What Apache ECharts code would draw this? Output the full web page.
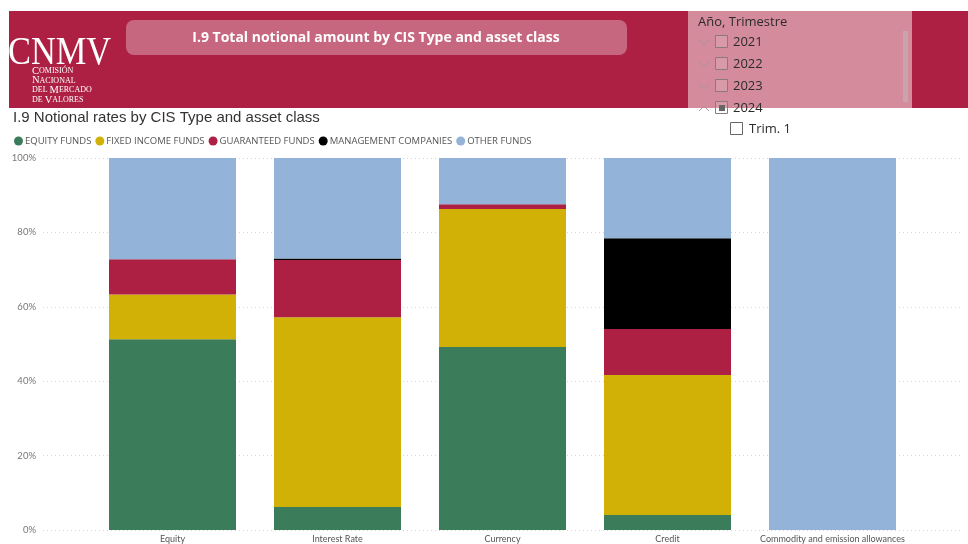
<!DOCTYPE html>
<html>
<head>
<meta charset="utf-8">
<script src="https://cdn.jsdelivr.net/npm/echarts@6/dist/echarts.min.js"></script>
<style>
  html, body { margin: 0; padding: 0; background: #fff; }
  #chart { width: 968px; height: 544px; }
</style>
</head>
<body>
<div id="chart"></div>
<script>
// Asset classes on the x axis
const categories = ['Equity', 'Interest Rate', 'Currency', 'Credit', 'Commodity and emission allowances'];

// Share of notional amount (%) per CIS type
const equityFunds         = [51.3, 6.2, 49.2, 4.0, 0];
const fixedIncomeFunds    = [12.0, 51.0, 37.1, 37.7, 0];
const guaranteedFunds     = [9.5, 15.4, 1.3, 12.3, 0];
const managementCompanies = [0, 0.4, 0, 24.4, 0];
const otherFunds          = [27.2, 27.0, 12.4, 21.6, 100];

const seriesNames = ['EQUITY FUNDS', 'FIXED INCOME FUNDS', 'GUARANTEED FUNDS', 'MANAGEMENT COMPANIES', 'OTHER FUNDS'];
const seriesColors = ['#3b7c5a', '#d2b106', '#ad2043', '#000000', '#94b3d9'];
const seriesData = [equityFunds, fixedIncomeFunds, guaranteedFunds, managementCompanies, otherFunds];

// Slicer entries
const slicerYears = ['2021', '2022', '2023', '2024'];
const slicerQuarter = 'Trim. 1';

// Logo wordmark lines
const logoLines = ['Comisión', 'Nacional', 'del Mercado', 'de Valores'];

const chart = echarts.init(document.getElementById('chart'), null, { renderer: 'canvas' });

const brand = '#ad2043';
const uiFont = '"Open Sans", "Noto Sans", sans-serif';
const narrowFont = 'Lato, "Open Sans", sans-serif';
const serif = '"Liberation Serif", "DejaVu Serif", serif';

// Small-caps rendering of a logo line: capitals larger, the rest as reduced capitals
function smallCaps(str) {
  let out = '';
  for (const ch of str) {
    const isCap = ch !== ch.toLowerCase();
    out += isCap ? '{c|' + ch + '}' : (ch === ' ' ? '{s| }' : '{s|' + ch.toUpperCase() + '}');
  }
  return out;
}

// Header band, title pill, logo and slicer
const graphics = [
  { type: 'rect', shape: { x: 9, y: 11, width: 959, height: 97 }, style: { fill: brand }, z: 10 },
  { type: 'rect', shape: { x: 126, y: 20, width: 501, height: 35, r: 8 }, style: { fill: 'rgba(255,255,255,0.32)' }, z: 11 },
  { type: 'text', x: 376, y: 38, style: { text: 'I.9 Total notional amount by CIS Type and asset class', fill: '#fff',
      font: 'bold 14px ' + uiFont, textAlign: 'center', textVerticalAlign: 'middle' }, z: 12 },
  { type: 'text', x: 8, y: 53, scaleX: 0.86, style: { text: 'CNMV', fill: '#fff', font: '40px ' + serif,
      textVerticalAlign: 'middle' }, z: 12 },
  { type: 'text', x: 13, y: 118, style: { text: 'I.9 Notional rates by CIS Type and asset class', fill: '#333',
      font: '15px "Liberation Sans", Arial, sans-serif', textVerticalAlign: 'middle' }, z: 12 },
  // slicer panel
  { type: 'rect', shape: { x: 688, y: 11, width: 224, height: 97 }, style: { fill: '#d48c9d' }, z: 13 },
  { type: 'rect', shape: { x: 903, y: 31, width: 5, height: 71 }, style: { fill: '#c9a3ad' }, z: 14 },
  { type: 'text', x: 698, y: 22, style: { text: 'Año, Trimestre', fill: '#2b2b2b', font: '13px ' + uiFont, textVerticalAlign: 'middle' }, z: 14 }
];

logoLines.forEach((line, i) => {
  graphics.push({ type: 'text', x: 32, y: 71 + i * 9.7, style: {
    text: smallCaps(line), fill: '#fff', textVerticalAlign: 'middle',
    rich: { c: { fontFamily: serif, fontSize: 10.5, fill: '#fff' }, s: { fontFamily: serif, fontSize: 8, fill: '#fff' } }
  }, z: 12 });
});

slicerYears.forEach((yr, i) => {
  const cy = 42 + i * 22;
  const open = i === slicerYears.length - 1;
  graphics.push({ type: 'polyline', shape: { points: open ? [[699, cy + 3], [704, cy - 2], [709, cy + 3]] : [[699, cy - 2], [704, cy + 3], [709, cy - 2]] },
    style: { stroke: '#a8959a', lineWidth: 1, fill: null }, z: 14 });
  graphics.push({ type: 'rect', shape: { x: 715.5, y: cy - 6.5, width: 12, height: 12 }, style: { stroke: '#8a7a7f', lineWidth: 1, fill: 'rgba(255,255,255,0.12)' }, z: 14 });
  if (open) graphics.push({ type: 'rect', shape: { x: 719, y: cy - 3, width: 6, height: 6 }, style: { fill: '#666' }, z: 15 });
  graphics.push({ type: 'text', x: 733, y: cy, style: { text: yr, fill: '#2b2b2b', font: '13px ' + uiFont, textVerticalAlign: 'middle' }, z: 14 });
});
graphics.push({ type: 'rect', shape: { x: 730.5, y: 122.5, width: 12, height: 12 }, style: { stroke: '#666', lineWidth: 1, fill: '#fff' }, z: 14 });
graphics.push({ type: 'text', x: 749, y: 129, style: { text: slicerQuarter, fill: '#2b2b2b', font: '13px ' + uiFont, textVerticalAlign: 'middle' }, z: 14 });

const option = {
  backgroundColor: '#fff',
  animation: false,
  graphic: graphics,
  legend: {
    left: 9, top: 131,
    icon: 'circle', itemWidth: 9, itemHeight: 9, itemGap: 4,
    textStyle: { color: '#555', fontFamily: uiFont, fontSize: 9.5, padding: [0, 0, 0, -3] },
    data: seriesNames
  },
  grid: [
    { left: 43, right: 8, top: 158, bottom: 14 },
    { left: 90, right: 53, top: 158, bottom: 14 }
  ],
  xAxis: [
    { type: 'category', gridIndex: 0, data: categories, show: false },
    { type: 'category', gridIndex: 1, data: categories,
      axisLine: { show: false }, axisTick: { show: false },
      axisLabel: { color: '#555', fontFamily: narrowFont, fontSize: 9, margin: 5, interval: 0 } }
  ],
  yAxis: [
    { type: 'value', gridIndex: 0, min: 0, max: 100, interval: 20,
      axisLabel: { formatter: '{value}%', color: '#777', fontFamily: narrowFont, fontSize: 9.5, margin: 7 },
      axisLine: { show: false }, axisTick: { show: false },
      splitLine: { lineStyle: { color: '#d4d4d4', type: [1, 3], width: 1 } } },
    { type: 'value', gridIndex: 1, min: 0, max: 100, show: false, splitLine: { show: false } }
  ],
  series: seriesNames.map((name, i) => ({
    name, type: 'bar', stack: 'share',
    xAxisIndex: 1, yAxisIndex: 1,
    barWidth: 127,
    itemStyle: { color: seriesColors[i] },
    data: seriesData[i]
  }))
};

chart.setOption(option);
</script>
</body>
</html>
